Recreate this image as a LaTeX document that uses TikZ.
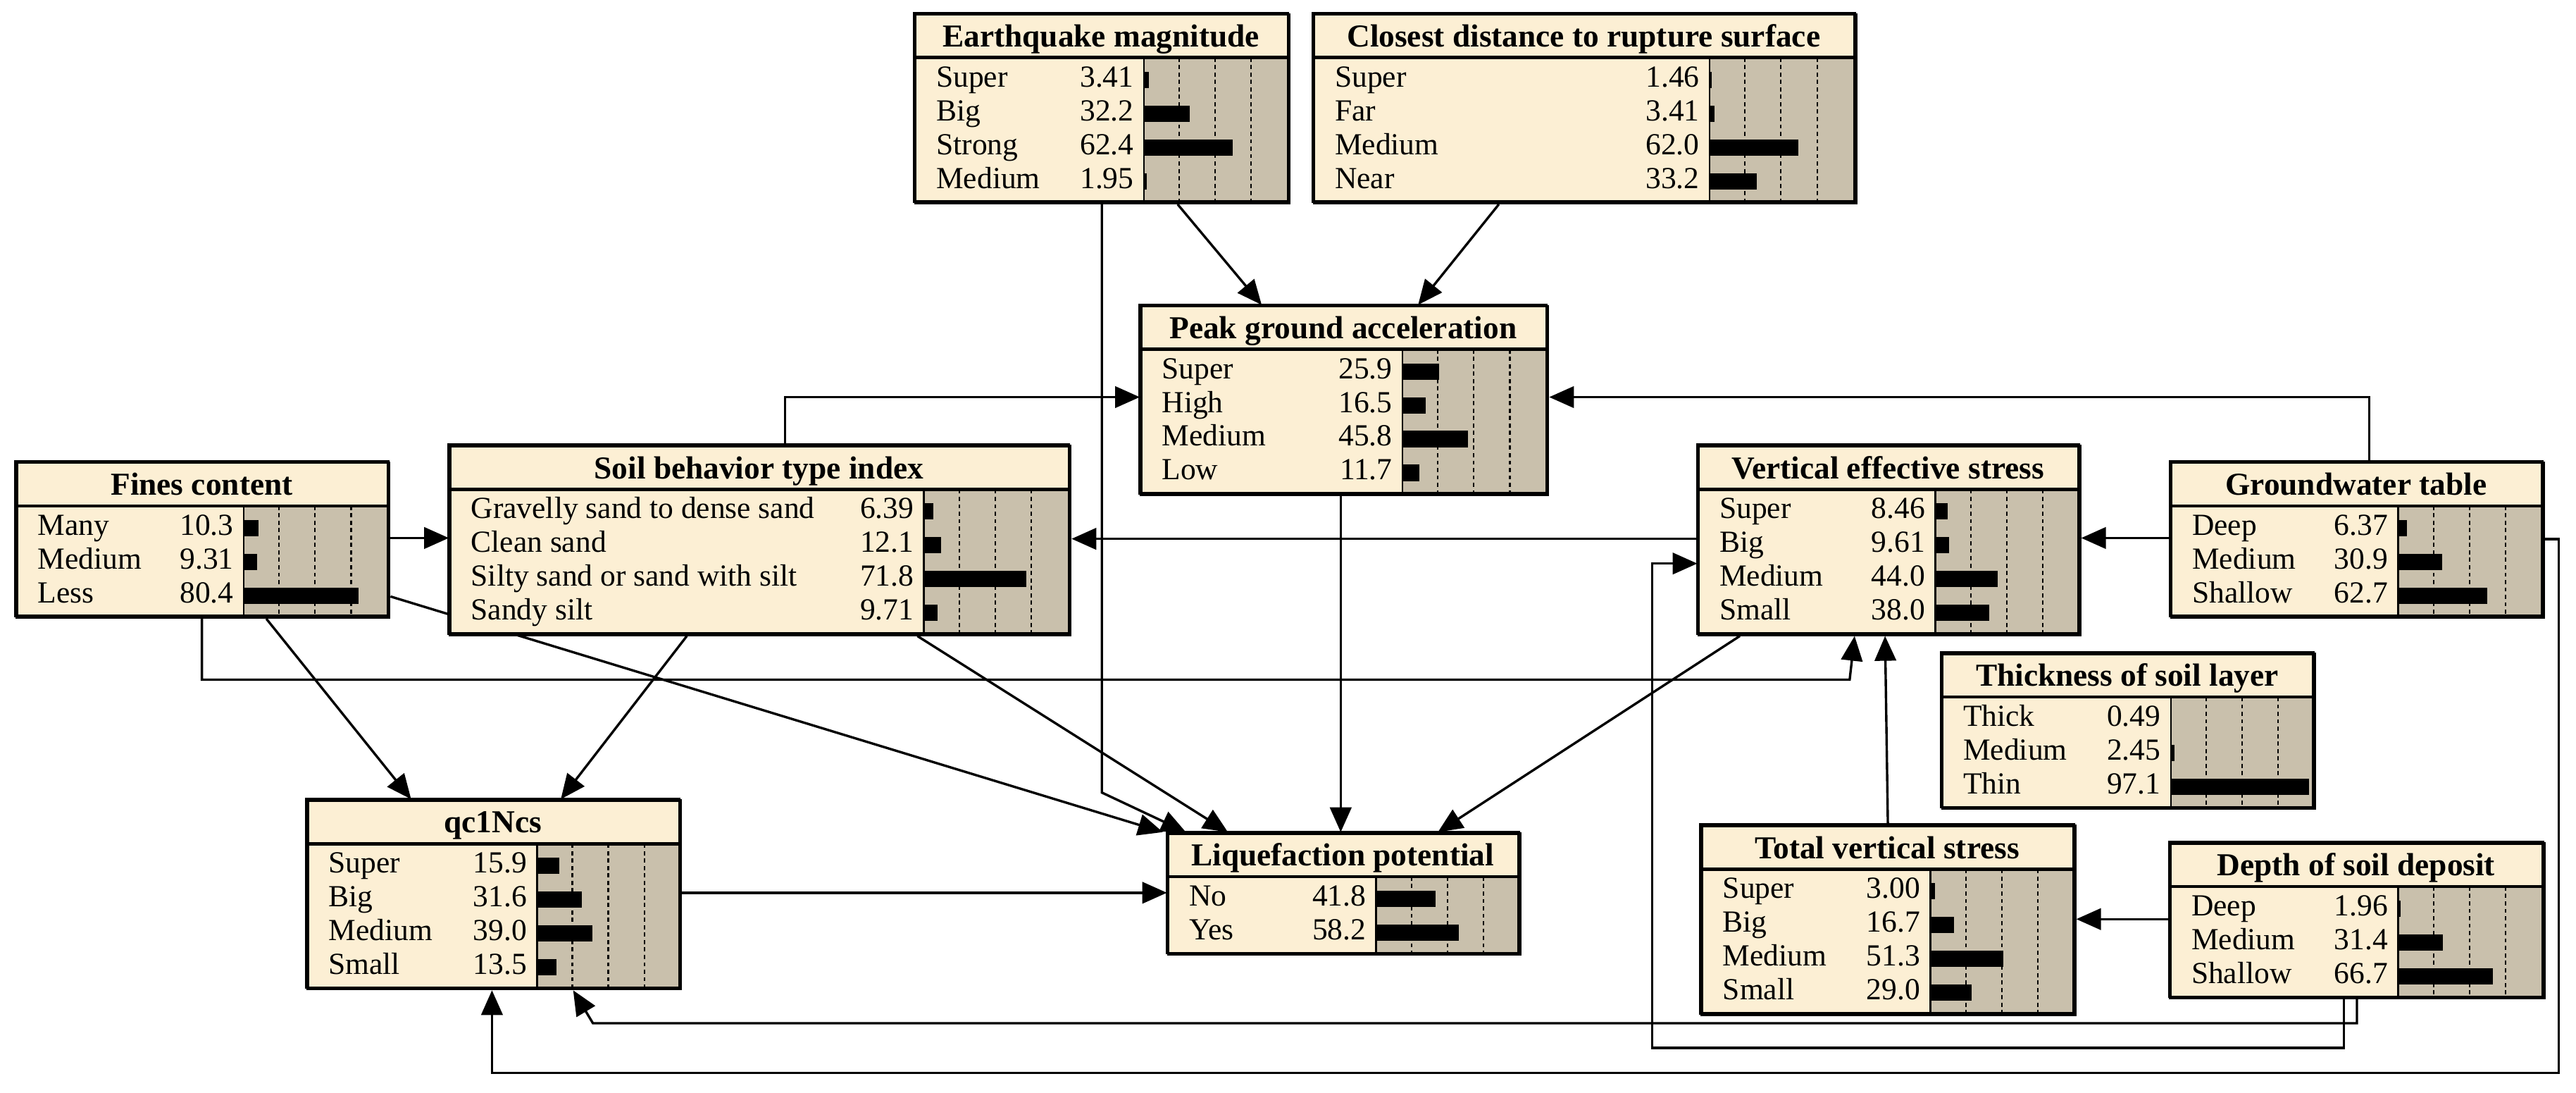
\documentclass[tikz,border=0pt]{standalone}
\usepackage{fontspec}
\setmainfont{Liberation Serif}
\usetikzlibrary{arrows.meta}
\pgfdeclarelayer{bg}
\pgfsetlayers{bg,main}
\definecolor{cream}{HTML}{FCEFD4}
\definecolor{tanbar}{HTML}{C9C0AC}
\tikzset{
 bnframe/.style={draw, line width=1.6pt, fill=cream, inner sep=0pt, anchor=north west},
 bntitle/.style={anchor=base, inner sep=0pt, font=\fontsize{19.4}{21}\selectfont\bfseries},
 bnlabel/.style={anchor=base west, inner sep=0pt, font=\fontsize{18.6}{20}\selectfont},
 bnvalue/.style={anchor=base east, inner sep=0pt, font=\fontsize{18.6}{20}\selectfont},
 bndash/.style={line width=0.9pt, dash pattern=on 2.5pt off 2pt},
 conn/.style={line width=1.45pt, -{Triangle[length=15pt,width=13pt]}},
}
\newcommand\bnbox[8]{%
 \pgfmathsetmacro\bntl{#3+27}%
 \pgfmathsetmacro\bnbt{#3+32.4+#6*20.5}%
 \pgfmathsetmacro\bnw{#4-#2}%
 \pgfmathsetmacro\bnh{\bnbt-#3}%
 \node[bnframe, minimum width=\bnw pt, minimum height=\bnh pt] (#1) at (#2,#3) {};
 \fill[tanbar] (#5,\bntl) rectangle (#4,\bnbt);
 \foreach \dd in {21.5,43.3,65.2} \draw[bndash] ({#5+\dd},\bntl) -- ({#5+\dd},\bnbt);
 \foreach \lab/\val [count=\i] in {#8} {
   \pgfmathsetmacro\bnbl{\bntl+17.7+(\i-1)*20.5}
   \node[bnlabel] (#1-l\i) at ({#2+13.3},\bnbl) {\lab};
   \node[bnvalue] (#1-v\i) at ({#5-6},\bnbl) {\val};
   \fill ({#5},{\bnbl-9.2}) rectangle ({#5+\val*0.865},{\bnbl+0.7});
 }
 \draw[line width=1.1pt] (#5,\bntl) -- (#5,\bnbt);
 \draw[line width=2pt] (#2,\bntl) -- (#4,\bntl);
 \draw[line width=1.6pt] (#2,#3) rectangle (#4,\bnbt);
 \node[bntitle] (#1-t) at ({(#2+#4)/2},{\bntl-6.5}) {#7};
}
\begin{document}
\begin{tikzpicture}[x=1pt,y=-1pt]
\useasboundingbox (0,0) rectangle (1564,663);
\bnbox{eq}{555}{8}{782}{694.5}{4}{Earthquake magnitude}{Super/3.41, Big/32.2, Strong/62.4, Medium/1.95}
\bnbox{cd}{797}{8}{1126}{1038}{4}{Closest distance to rupture surface}{Super/1.46, Far/3.41, Medium/62.0, Near/33.2}
\bnbox{pga}{692}{185}{939}{851.5}{4}{Peak ground acceleration}{Super/25.9, High/16.5, Medium/45.8, Low/11.7}
\bnbox{sbt}{272.5}{270}{649}{561}{4}{Soil behavior type index}{Gravelly sand to dense sand/6.39, Clean sand/12.1, Silty sand or sand with silt/71.8, Sandy silt/9.71}
\bnbox{fc}{9.5}{280}{235.5}{148}{3}{Fines content}{Many/10.3, Medium/9.31, Less/80.4}
\bnbox{ves}{1030.5}{270}{1262}{1175}{4}{Vertical effective stress}{Super/8.46, Big/9.61, Medium/44.0, Small/38.0}
\bnbox{gwt}{1317.5}{280}{1543.5}{1456}{3}{Groundwater table}{Deep/6.37, Medium/30.9, Shallow/62.7}
\bnbox{tsl}{1178.5}{396}{1404.5}{1318}{3}{Thickness of soil layer}{Thick/0.49, Medium/2.45, Thin/97.1}
\bnbox{tvs}{1032.5}{500.5}{1259}{1172}{4}{Total vertical stress}{Super/3.00, Big/16.7, Medium/51.3, Small/29.0}
\bnbox{dsd}{1317}{511}{1544}{1456}{3}{Depth of soil deposit}{Deep/1.96, Medium/31.4, Shallow/66.7}
\bnbox{qc}{186}{485}{412.5}{326}{4}{qc1Ncs}{Super/15.9, Big/31.6, Medium/39.0, Small/13.5}
\bnbox{lp}{708.5}{505}{922}{835.5}{2}{Liquefaction potential}{No/41.8, Yes/58.2}
\begin{pgfonlayer}{bg}
\fill[white] (0,0) rectangle (1564,663);
\draw[conn] (715,0 |- eq.south) -- (766,0 |- pga.north);
\draw[conn] (910,0 |- cd.south) -- (861,0 |- pga.north);
\draw[conn] (669,0 |- eq.south) -- (669,481) -- (720,0 |- lp.north);
\draw[conn] (476.6,0 |- sbt.north) |- (pga.west |- 0,241);
\draw[conn] (1438.4,0 |- gwt.north) |- (pga.east |- 0,241);
\draw[conn] (814,0 |- pga.south) -- (814,0 |- lp.north);
\draw[conn] (fc.east |- 0,326.5) -- (sbt.west |- 0,326.5);
\draw[conn] (ves.west |- 0,327) -- (sbt.east |- 0,327);
\draw[conn] (gwt.west |- 0,326.5) -- (ves.east |- 0,326.5);
\draw[conn] (161.7,0 |- fc.south) -- (249.6,0 |- qc.north);
\draw[conn] (417,0 |- sbt.south) -- (340.5,0 |- qc.north);
\draw[conn] (fc.east |- 0,362) -- (706,0 |- lp.north);
\draw[conn] (557,0 |- sbt.south) -- (745.5,0 |- lp.north);
\draw[conn] (1056.3,0 |- ves.south) -- (873,0 |- lp.north);
\draw[conn] (qc.east |- 0,541.8) -- (lp.west |- 0,541.8);
\draw[conn] (122.6,0 |- fc.south) -- (122.6,412.5) -- (1123,412.5) -- (1126,0 |- ves.south);
\draw[conn] (1146.2,0 |- tvs.north) -- (1144.5,0 |- ves.south);
\draw[conn] (dsd.west |- 0,557.8) -- (tvs.east |- 0,557.8);
\draw[conn] (1423,0 |- dsd.south) -- (1423,636) -- (1003,636) -- (1003,342) -- (ves.west |- 0,342);
\draw[conn] (1431,0 |- dsd.south) -- (1431,621) -- (360,621) -- (348,0 |- qc.south);
\draw[conn] (gwt.east |- 0,327.2) -- (1553.4,327.2) -- (1553.4,651) -- (298.7,651) -- (298.7,0 |- qc.south);
\end{pgfonlayer}
\end{tikzpicture}
\end{document}
